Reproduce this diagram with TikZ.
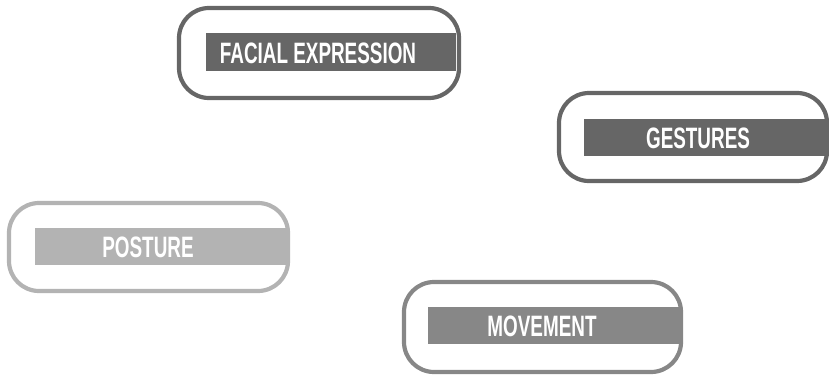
\documentclass[tikz,border=0pt]{standalone}
\usepackage{fontspec}
\newfontfamily\labelfont[FakeStretch=0.64]{Liberation Sans}
\definecolor{cdark}{HTML}{666666}
\definecolor{cmid}{HTML}{878787}
\definecolor{clight}{HTML}{B3B3B3}
\begin{document}
\begin{tikzpicture}[x=1pt,y=-1pt,
  frame/.style={draw=#1, line width=4.2pt, rounded corners=30pt, inner sep=0pt, fill=none},
  bar/.style={fill=#1, draw=none, inner sep=0pt},
  lbl/.style={text=white, inner sep=0pt, font=\labelfont\bfseries\fontsize{29.5}{31}\selectfont}]
\useasboundingbox (0,0) rectangle (829,375);
% Facial expression
\node[bar=cdark, minimum width=250pt, minimum height=38pt] (b1) at (331,52) {};
\node[frame=cdark, minimum width=280pt, minimum height=90pt] (f1) at (319,53) {};
\node[lbl] (t1) at (318,53) {FACIAL EXPRESSION};
% Gestures
\node[bar=cdark, minimum width=245pt, minimum height=37pt] (b2) at (706.5,137.5) {};
\node[frame=cdark, minimum width=268pt, minimum height=88pt] (f2) at (693,137) {};
\node[lbl] (t2) at (698,138) {GESTURES};
% Posture
\node[bar=clight, minimum width=252pt, minimum height=37pt] (b3) at (161,246.5) {};
\node[frame=clight, minimum width=279pt, minimum height=88pt] (f3) at (148.5,247) {};
\node[lbl] (t3) at (148,247) {POSTURE};
% Movement
\node[bar=cmid, minimum width=252pt, minimum height=37pt] (b4) at (554,325.5) {};
\node[frame=cmid, minimum width=277pt, minimum height=90pt] (f4) at (542.5,327) {};
\node[lbl] (t4) at (542,326) {MOVEMENT};
\end{tikzpicture}
\end{document}
